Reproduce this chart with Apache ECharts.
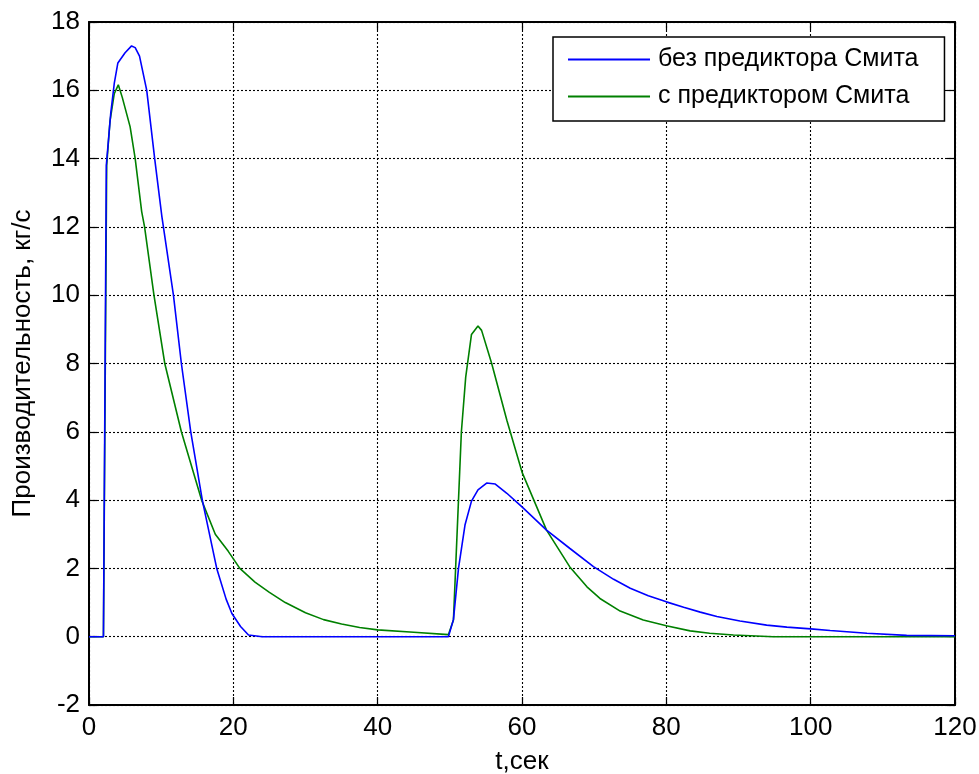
<!DOCTYPE html>
<html><head><meta charset="utf-8">
<script src="https://cdn.jsdelivr.net/npm/echarts@6/dist/echarts.min.js"></script>
<style>html,body{margin:0;padding:0;background:#fff}#c{width:979px;height:774px}</style>
</head><body><div id="c"></div>
<script>
const seriesNames = ['без предиктора Смита', 'с предиктором Смита'];
const tBlue = [0,2,2.4,3.0,3.5,4.0,5.0,5.9,6.4,7.0,8.0,9.1,10.1,11.7,12.8,14.1,15.7,17.7,19.0,19.8,21,22.1,24,30,40,49.8,50.5,51.2,52.1,53.0,53.9,55.1,56.3,57.9,60,63.4,66.6,69.9,72.7,75,77.5,80,82.4,84.7,87,90.2,93.9,96.7,100,102.7,107.8,113.3,120];
const vBlue = [0,0,13.8,15.3,16.2,16.8,17.1,17.3,17.25,17.0,16.0,14.0,12.3,10.0,8.0,6.0,4.0,2.0,1.1,0.68,0.3,0.05,0,0,0,0,0.5,2.0,3.27,3.97,4.3,4.5,4.47,4.2,3.8,3.12,2.59,2.05,1.68,1.42,1.2,1.02,0.86,0.72,0.59,0.46,0.34,0.28,0.23,0.18,0.1,0.04,0.03];
const tGreen = [0,2,2.45,2.9,3.5,4.06,4.6,5.7,6.4,7.3,7.7,9.0,10.5,12.8,15.6,17.5,19.3,20.9,23,25,27.2,30,32.5,35,37.5,40,45,49.8,50.5,51.2,51.6,52.2,53.0,53.9,54.4,55.8,57.9,60,63.4,66.6,69,70.8,73.6,76.8,80,83.3,86,89.3,94.8,120];
const vGreen = [0,0,13.8,15.08,15.9,16.16,15.8,14.93,14.0,12.45,12.0,10,8,6,4,3.0,2.5,2.0,1.6,1.3,1.0,0.7,0.5,0.37,0.27,0.2,0.13,0.06,0.49,4.0,6.0,7.6,8.85,9.1,8.97,8.0,6.34,4.82,3.12,2.05,1.46,1.12,0.75,0.49,0.32,0.17,0.1,0.05,0,0];
const xLabel = 't,сек';
const yLabel = 'Производительность, кг/с';

const pair = (t, v) => t.map((x, i) => [x, v[i]]);
const chart = echarts.init(document.getElementById('c'));
const font = 'Liberation Sans, Arial, sans-serif';
const fs = 26;
const splitLine = {show: true, lineStyle: {color: '#000', type: [2, 2], width: 1.1}};
const tick = {show: true, inside: true, length: 8, lineStyle: {color: '#000', width: 1.2}};
const axisLine = {show: true, onZero: false, lineStyle: {color: '#000', width: 2}};
chart.setOption({
  animation: false,
  backgroundColor: '#fff',
  grid: {left: 89, right: 24, top: 22, bottom: 69, show: false, containLabel: false, outerBoundsMode: 'none'},
  legend: {
    left: 553, top: 37, orient: 'vertical',
    data: seriesNames,
    backgroundColor: '#fff', borderColor: '#000', borderWidth: 1.5, borderRadius: 0,
    padding: [10, 26, 12, 15], itemGap: 12, itemWidth: 82, itemHeight: 12,
    icon: 'path://M0,5 L80,5 L80,7 L0,7 Z',
    textStyle: {fontFamily: font, fontSize: 25, color: '#000', padding: [0, 0, 0, 3]}
  },
  xAxis: [{
    type: 'value', min: 0, max: 120, interval: 20,
    name: xLabel, nameLocation: 'middle', nameGap: 44,
    nameTextStyle: {fontFamily: font, fontSize: fs, color: '#000'},
    axisLine: axisLine, axisTick: tick, splitLine: splitLine,
    axisLabel: {fontFamily: font, fontSize: fs, color: '#000', margin: 10}
  }, {
    type: 'value', position: 'top', min: 0, max: 120, interval: 20,
    axisLine: axisLine, axisTick: tick, splitLine: {show: false}, axisLabel: {show: false}
  }],
  yAxis: [{
    type: 'value', min: -2, max: 18, interval: 2,
    name: yLabel, nameLocation: 'middle', nameGap: 53, nameRotate: 90,
    nameTextStyle: {fontFamily: font, fontSize: fs, color: '#000'},
    axisLine: axisLine, axisTick: tick, splitLine: splitLine,
    axisLabel: {fontFamily: font, fontSize: fs, color: '#000', margin: 9}
  }, {
    type: 'value', position: 'right', min: -2, max: 18, interval: 2,
    axisLine: axisLine, axisTick: tick, splitLine: {show: false}, axisLabel: {show: false}
  }],
  series: [
    {name: seriesNames[0], type: 'line', data: pair(tBlue, vBlue), showSymbol: false, symbol: 'none',
     lineStyle: {color: '#0000ff', width: 1.6}, itemStyle: {color: '#0000ff'}, z: 3},
    {name: seriesNames[1], type: 'line', data: pair(tGreen, vGreen), showSymbol: false, symbol: 'none',
     lineStyle: {color: '#008000', width: 1.6}, itemStyle: {color: '#008000'}, z: 2}
  ]
});
</script></body></html>
